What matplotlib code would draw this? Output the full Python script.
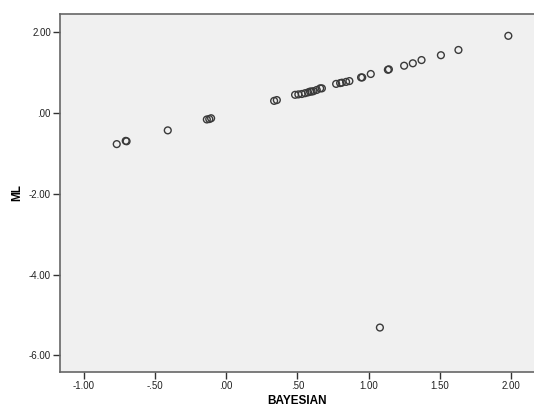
import matplotlib.pyplot as plt
from matplotlib.ticker import FuncFormatter

plt.rcParams['font.family'] = ['Liberation Sans', 'DejaVu Sans']

# BAYESIAN vs ML estimates
bayesian = [-0.767, -0.704, -0.698, -0.409, -0.135, -0.118, -0.105,
            0.337, 0.356, 0.484, 0.507, 0.531, 0.554, 0.575, 0.589,
            0.600, 0.613, 0.636, 0.660, 0.672, 0.772, 0.800, 0.812,
            0.842, 0.865, 0.947, 0.955, 1.015, 1.135, 1.142, 1.249,
            1.310, 1.371, 1.507, 1.630, 1.980, 1.079]
ml = [-0.77, -0.69, -0.70, -0.43, -0.16, -0.15, -0.13,
      0.30, 0.32, 0.45, 0.46, 0.47, 0.49, 0.51, 0.53,
      0.53, 0.54, 0.57, 0.61, 0.61, 0.72, 0.74, 0.75,
      0.77, 0.79, 0.88, 0.88, 0.965, 1.07, 1.08, 1.17,
      1.23, 1.31, 1.43, 1.56, 1.91, -5.31]

x_ticks = [-1.0, -0.5, 0.0, 0.5, 1.0, 1.5, 2.0]
y_ticks = [2.0, 0.0, -2.0, -4.0, -6.0]


def spss_fmt(v, pos=None):
    s = f"{v:.2f}"
    return s.replace("0.", ".", 1) if abs(v) < 1 else s


fig = plt.figure(figsize=(5.34, 4.08), dpi=100)
ax = fig.add_axes([60 / 534, 1 - 372 / 408, 1 - 60 / 534, (372 - 14) / 408])
ax.set_facecolor('#f0f0f0')

ax.scatter(bayesian, ml, s=24, facecolors='none', edgecolors='#3a3a3a',
           linewidths=1.0, zorder=3)

ax.set_xlim(-1.165, 2.16)
ax.set_ylim(-6.41, 2.45)
ax.set_xticks(x_ticks)
ax.set_yticks(y_ticks)
ax.xaxis.set_major_formatter(FuncFormatter(spss_fmt))
ax.yaxis.set_major_formatter(FuncFormatter(spss_fmt))
ax.tick_params(axis='both', length=5, width=1, color='#333333',
               labelsize=7, pad=1.5, labelcolor='#222222')

for side in ['left', 'bottom', 'top']:
    ax.spines[side].set_color('#666666')
    ax.spines[side].set_linewidth(1.2)
ax.spines['right'].set_visible(False)

ax.set_xlabel('BAYESIAN', fontsize=8.5, fontweight='bold', labelpad=3)
ax.set_ylabel('ML', fontsize=8.5, fontweight='bold', labelpad=4)

fig.savefig('out.png', dpi=100)
